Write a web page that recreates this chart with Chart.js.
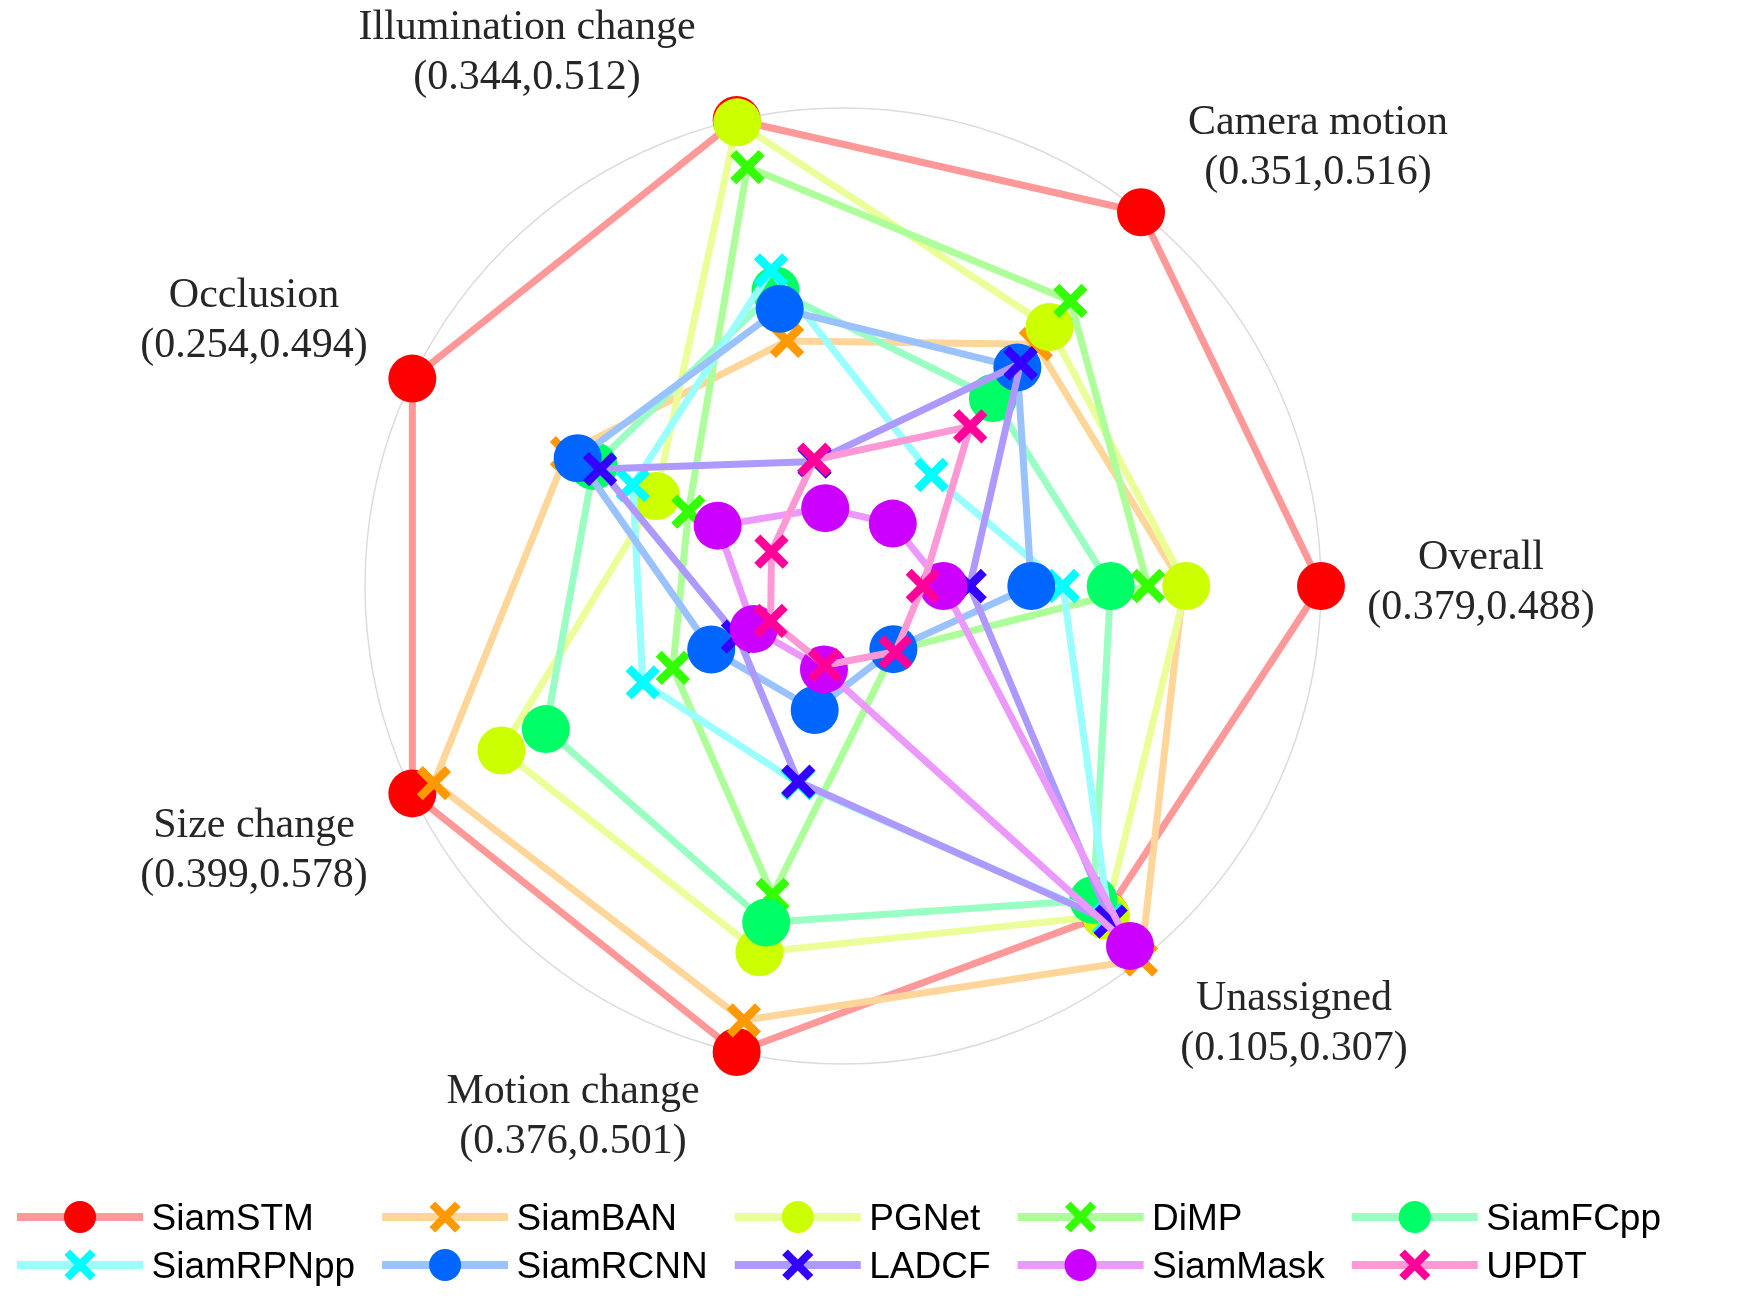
<!DOCTYPE html>
<html>
<head>
<meta charset="utf-8">
<script src="https://cdn.jsdelivr.net/npm/chart.js@4.4.1/dist/chart.umd.min.js"></script>
<style>
html,body{margin:0;padding:0;background:#ffffff;overflow:hidden;}
canvas{display:block;}
</style>
</head>
<body>
<canvas id="c" width="1750" height="1304"></canvas>
<script>
// Axis categories in Chart.js (clockwise from 3 o'clock) order
const categories = ['Overall', 'Unassigned', 'Motion change', 'Size change', 'Occlusion', 'Illumination change', 'Camera motion'];
const ranges = ['(0.379,0.488)', '(0.105,0.307)', '(0.376,0.501)', '(0.399,0.578)', '(0.254,0.494)', '(0.344,0.512)', '(0.351,0.516)'];

const trackers = ['SiamSTM', 'SiamBAN', 'PGNet', 'DiMP', 'SiamFCpp', 'SiamRPNpp', 'SiamRCNN', 'LADCF', 'SiamMask', 'UPDT'];

// Normalised scores (fraction of the outer ring), same order as categories
const siamSTM   = [1.000, 0.880, 1.000, 1.000, 1.000, 1.000, 1.000];
const siamBAN   = [0.712, 1.000, 0.932, 0.950, 0.641, 0.526, 0.647];
const pgNet     = [0.718, 0.882, 0.786, 0.793, 0.434, 0.995, 0.693];
const diMP      = [0.638, 0.172, 0.663, 0.395, 0.359, 0.899, 0.763];
const siamFCpp  = [0.560, 0.840, 0.722, 0.690, 0.579, 0.634, 0.503];
const siamRPNpp = [0.460, 0.893, 0.423, 0.465, 0.488, 0.677, 0.297];
const siamRCNN  = [0.394, 0.169, 0.266, 0.306, 0.616, 0.595, 0.585];
const ladcf     = [0.265, 0.898, 0.420, 0.244, 0.564, 0.267, 0.596];
const siamMask  = [0.210, 0.963, 0.179, 0.207, 0.291, 0.167, 0.167];
const updt      = [0.167, 0.176, 0.170, 0.168, 0.166, 0.271, 0.427];

const seriesValues = [siamSTM, siamBAN, pgNet, diMP, siamFCpp, siamRPNpp, siamRCNN, ladcf, siamMask, updt];

const markerColors = ['#FF0000', '#FF9900', '#CCFF00', '#33FF00', '#00FF66', '#00FFFF', '#0066FF', '#3300FF', '#CC00FF', '#FF0099'];
const markerStyles = ['circle', 'crossRot', 'circle', 'crossRot', 'circle', 'crossRot', 'circle', 'crossRot', 'circle', 'crossRot'];

function lighten(hex, a) {
  const r = parseInt(hex.substr(1, 2), 16), g = parseInt(hex.substr(3, 2), 16), b = parseInt(hex.substr(5, 2), 16);
  const f = v => Math.round(255 - a * (255 - v));
  return 'rgb(' + f(r) + ',' + f(g) + ',' + f(b) + ')';
}
const lineColors = markerColors.map(c => lighten(c, 0.4));

// label layout (offsets from radar centre, px)
const labelOffsets = [[638, -17], [451, 424], [-270, 517], [-589, 251], [-589, -279], [-316, -547], [475, -452]];

const axisLabelPlugin = {
  id: 'axisLabels',
  afterDraw(chart) {
    const s = chart.scales.r;
    const ctx = chart.ctx;
    ctx.save();
    ctx.font = '42px "Liberation Serif"';
    ctx.fillStyle = '#262626';
    ctx.textAlign = 'center';
    ctx.textBaseline = 'alphabetic';
    categories.forEach((c, i) => {
      const [dx, dy] = labelOffsets[i];
      ctx.fillText(c, s.xCenter + dx, s.yCenter + dy);
      ctx.fillText(ranges[i], s.xCenter + dx, s.yCenter + dy + 50);
    });
    ctx.restore();
  }
};

function drawMarker(ctx, style, color, x, y, r, w) {
  ctx.save();
  if (style === 'circle') {
    ctx.fillStyle = color;
    ctx.beginPath();
    ctx.arc(x, y, r, 0, Math.PI * 2);
    ctx.fill();
  } else {
    const d = r * Math.SQRT1_2;
    ctx.strokeStyle = color;
    ctx.lineWidth = w;
    ctx.lineCap = 'butt';
    ctx.beginPath();
    ctx.moveTo(x - d, y - d); ctx.lineTo(x + d, y + d);
    ctx.moveTo(x - d, y + d); ctx.lineTo(x + d, y - d);
    ctx.stroke();
  }
  ctx.restore();
}

const legendPlugin = {
  id: 'customLegend',
  afterDraw(chart) {
    const ctx = chart.ctx;
    ctx.save();
    ctx.font = '37px "Liberation Sans"';
    const rowsY = [1217, 1265];
    const cols = 5;
    let x0 = 17;
    for (let col = 0; col < cols; col++) {
      let maxW = 0;
      for (let row = 0; row < 2; row++) {
        const i = row * cols + col;
        const y = rowsY[row];
        ctx.strokeStyle = lineColors[i];
        ctx.lineWidth = 8;
        ctx.lineCap = 'butt';
        ctx.beginPath();
        ctx.moveTo(x0, y);
        ctx.lineTo(x0 + 126, y);
        ctx.stroke();
        if (markerStyles[i] === 'circle') drawMarker(ctx, 'circle', markerColors[i], x0 + 63, y, 16, 0);
        else drawMarker(ctx, 'cross', markerColors[i], x0 + 63, y, 18, 8);
        ctx.fillStyle = '#000000';
        ctx.textAlign = 'left';
        ctx.textBaseline = 'alphabetic';
        ctx.fillText(trackers[i], x0 + 134.5, y + 13);
        maxW = Math.max(maxW, ctx.measureText(trackers[i]).width);
      }
      x0 += 134.5 + maxW + 27;
    }
    ctx.restore();
  }
};

const datasets = trackers.map((name, i) => ({
  label: name,
  data: seriesValues[i],
  borderColor: lineColors[i],
  backgroundColor: lineColors[i],
  borderWidth: 7,
  borderJoinStyle: 'round',
  fill: false,
  tension: 0,
  pointStyle: markerStyles[i],
  pointRadius: markerStyles[i] === 'circle' ? 24 : 20,
  pointHoverRadius: markerStyles[i] === 'circle' ? 24 : 20,
  pointBackgroundColor: markerColors[i],
  pointBorderColor: markerColors[i],
  pointBorderWidth: markerStyles[i] === 'circle' ? 0 : 8.5,
  clip: false,
  order: trackers.length - i
}));

new Chart(document.getElementById('c'), {
  type: 'radar',
  data: { labels: categories, datasets: datasets },
  options: {
    responsive: false,
    animation: false,
    events: [],
    layout: { padding: { left: 365, right: 428, top: 108, bottom: 239 } },
    plugins: { legend: { display: false }, tooltip: { enabled: false }, title: { display: false } },
    scales: {
      r: {
        min: 0,
        max: 1,
        startAngle: 90,
        ticks: { display: false, stepSize: 1 },
        grid: { circular: true, color: '#dcdcdc', lineWidth: 1.5 },
        angleLines: { display: false },
        pointLabels: { display: false }
      }
    }
  },
  plugins: [axisLabelPlugin, legendPlugin]
});
</script>
</body>
</html>
